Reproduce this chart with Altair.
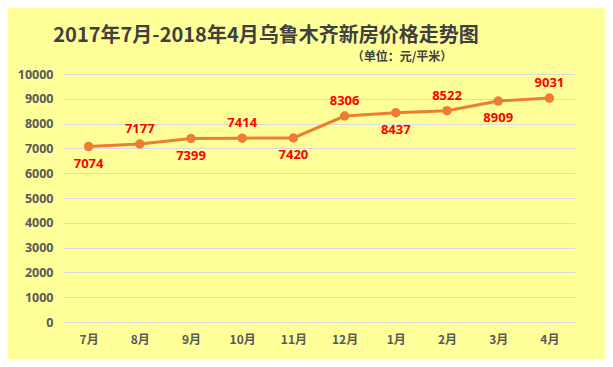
import altair as alt
import pandas as pd

months = ["7月", "8月", "9月", "10月", "11月", "12月", "1月", "2月", "3月", "4月"]
prices = [7074, 7177, 7399, 7414, 7420, 8306, 8437, 8522, 8909, 9031]

df = pd.DataFrame({"month": months, "price": prices})
df["idx"] = range(len(df))

FONT = "Noto Sans CJK SC"
ORANGE = "#ED7D31"

x = alt.X("month:N", sort=months, title=None,
          scale=alt.Scale(type="point", padding=0.5),
          axis=alt.Axis(labelAngle=0, labelFontSize=12, labelFontWeight="bold",
                        labelColor="#595959", labelFont=FONT, labelPadding=12,
                        domain=False, ticks=False, grid=False))
y = alt.Y("price:Q", title=None,
          scale=alt.Scale(domain=[0, 10000], nice=False),
          axis=alt.Axis(values=list(range(0, 10001, 1000)), format="d", labelFontSize=12.5,
                        labelFontWeight="bold", labelColor="#595959", labelFont="Noto Sans",
                        labelPadding=10, domain=False, ticks=False,
                        grid=True, gridColor="#D9D9E3", gridWidth=1))

base = alt.Chart(df).encode(x=x, y=y)

line = base.mark_line(color=ORANGE, strokeWidth=3)
pts = base.mark_circle(color=ORANGE, size=90, opacity=1)

above = base.transform_filter("datum.idx % 2 == 1").mark_text(
    color="#FF0000", fontWeight="bold", fontSize=13, font="Noto Sans", dy=-15
).encode(text="price:Q")
below = base.transform_filter("datum.idx % 2 == 0").mark_text(
    color="#FF0000", fontWeight="bold", fontSize=13, font="Noto Sans", dy=17
).encode(text="price:Q")

subtitle = alt.Chart(pd.DataFrame({"t": ["（单位：元/平米）"]})).mark_text(
    font=FONT, fontSize=12, fontWeight="bold", color="#404040", align="center", baseline="middle"
).encode(text="t:N", x=alt.value(339), y=alt.value(-17))

chart = alt.layer(line, pts, above, below, subtitle).properties(
    width=512, height=248,
    title=alt.TitleParams(
        "2017年7月-2018年4月乌鲁木齐新房价格走势图",
        font=FONT, fontSize=20, fontWeight="bold", color="#404040",
        anchor="middle", dx=-53, offset=5
    ),
    background="#FFFF99",
    padding={"left": 55, "top": 66, "right": 30, "bottom": 37},
    autosize=alt.AutoSizeParams(type="none"),
).configure_view(stroke=None)

chart.save("out.html", embed_options={"renderer": "svg", "actions": False})
